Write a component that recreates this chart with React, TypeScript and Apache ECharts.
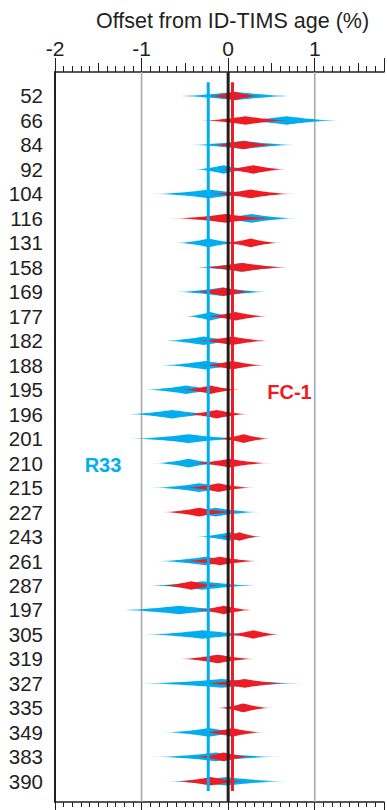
import React, { useEffect, useRef } from 'react';
import * as echarts from 'echarts';

// ---- data ----
const rowLabels = ['52', '66', '84', '92', '104', '116', '131', '158', '169', '177', '182', '188', '195', '196', '201', '210', '215', '227', '243', '261', '287', '197', '305', '319', '327', '335', '349', '383', '390'];
// R33 offsets (%): centre and half-width of the spindle
const r33Center = [0.06, 0.65, 0.15, -0.07, -0.24, 0.25, -0.24, 0.12, -0.09, -0.22, -0.30, -0.28, -0.50, -0.66, -0.47, -0.47, -0.35, -0.16, 0.00, -0.28, -0.31, -0.58, -0.31, -0.13, -0.09, 0.14, -0.24, -0.16, -0.04];
const r33Half = [0.72, 0.64, 0.65, 0.36, 0.68, 0.55, 0.40, 0.56, 0.57, 0.31, 0.49, 0.55, 0.51, 0.55, 0.72, 0.42, 0.57, 0.53, 0.41, 0.59, 0.67, 0.73, 0.72, 0.34, 1.00, 0.25, 0.55, 0.75, 0.73];
// FC-1 offsets (%)
const fc1Center = [0.05, 0.18, 0.16, 0.27, 0.24, -0.05, 0.24, 0.15, -0.07, 0.07, 0.03, 0.03, -0.22, -0.15, 0.16, 0.00, -0.13, -0.35, 0.11, -0.11, -0.44, -0.07, 0.27, -0.14, 0.17, 0.16, 0.03, -0.07, -0.22];
const fc1Half = [0.33, 0.55, 0.40, 0.40, 0.51, 0.65, 0.36, 0.55, 0.37, 0.39, 0.45, 0.40, 0.36, 0.39, 0.33, 0.49, 0.42, 0.45, 0.25, 0.47, 0.37, 0.36, 0.33, 0.46, 0.52, 0.33, 0.38, 0.36, 0.44];
const r33Mean = -0.23;
const fc1Mean = 0.05;
const gridValues = [-1, 1];
const xMin = -2;
const xMax = 1.8;

const FONT = '"Liberation Sans", Arial, Helvetica, sans-serif';
const INK = '#231f20';
const BLUE = '#00aeef';
const RED = '#ed1c24';

function spindleRender(rgb: string, solid: string) {
  return (params: any, api: any) => {
    const idx = api.value(0);
    const c = api.value(1);
    const hw = api.value(2);
    const a = api.coord([c - hw, idx]);
    const b = api.coord([c + hw, idx]);
    const y = a[1];
    const H = 4.3;
    const N = 30;
    const top: number[][] = [];
    const bot: number[][] = [];
    for (let i = 0; i <= N; i++) {
      const t = -1 + (2 * i) / N;
      const x = (a[0] + b[0]) / 2 + (t * (b[0] - a[0])) / 2;
      const h = H * Math.pow(1 - Math.abs(t), 1.8);
      top.push([x, y - h]);
      bot.push([x, y + h]);
    }
    const pts = top.concat(bot.reverse());
    return {
      type: 'polygon',
      shape: { points: pts },
      style: {
        fill: new echarts.graphic.LinearGradient(0, 0, 1, 0, [
          { offset: 0, color: `rgba(${rgb},0.2)` },
          { offset: 0.22, color: solid },
          { offset: 0.78, color: solid },
          { offset: 1, color: `rgba(${rgb},0.2)` },
        ]),
        stroke: null,
      },
    };
  };
}

function vLineRender(color: string, width: number) {
  return (params: any, api: any) => {
    const v = api.value(0);
    const a = api.coord([v, api.value(1)]);
    const b = api.coord([v, api.value(2)]);
    return {
      type: 'line',
      shape: { x1: a[0], y1: a[1], x2: b[0], y2: b[1] },
      style: { stroke: color, lineWidth: width },
    };
  };
}

export default function App() {
  const ref = useRef<HTMLDivElement>(null);
  useEffect(() => {
    document.body.style.margin = '0';
    const chart = echarts.init(ref.current!, null, { renderer: 'svg' });
    const r33Data = rowLabels.map((_, i) => [i, r33Center[i], r33Half[i]]);
    const fc1Data = rowLabels.map((_, i) => [i, fc1Center[i], fc1Half[i]]);
    const hiddenAxis = { show: false };
    const baseTop = {
      gridIndex: 0,
      type: 'value',
      min: xMin,
      max: xMax,
      splitLine: { show: false },
    };
    chart.setOption({
      animation: false,
      backgroundColor: '#ffffff',
      textStyle: { fontFamily: FONT },
      grid: [
        { left: 55, top: 72, width: 334.4, height: 730 },
        { left: 55, top: 83.76, width: 334.4, height: 709.8 },
      ],
      xAxis: [
        {
          ...baseTop,
          position: 'top',
          interval: 1,
          axisLine: { show: true, onZero: false, lineStyle: { color: INK, width: 1.5 } },
          axisTick: { show: true, length: 14, lineStyle: { color: INK, width: 1 } },
          axisLabel: {
            show: true,
            fontSize: 21,
            margin: 13,
            color: INK,
            fontFamily: FONT,
            formatter: (v: number) => (Number.isInteger(v) ? String(v) : ''),
          },
        },
        {
          ...baseTop,
          position: 'top',
          interval: 0.5,
          axisLine: { show: false, onZero: false },
          axisTick: { show: true, length: 9, lineStyle: { color: INK, width: 1 } },
          axisLabel: { show: false },
        },
        {
          ...baseTop,
          position: 'top',
          interval: 0.1,
          axisLine: { show: false, onZero: false },
          axisTick: { show: true, length: 6, lineStyle: { color: INK, width: 1 } },
          axisLabel: { show: false },
        },
        {
          ...baseTop,
          position: 'bottom',
          interval: 1,
          axisLine: { show: true, onZero: false, lineStyle: { color: INK, width: 1.5 } },
          axisTick: { show: true, length: 8, lineStyle: { color: INK, width: 1 } },
          axisLabel: { show: false },
        },
        {
          ...baseTop,
          position: 'bottom',
          interval: 0.1,
          axisLine: { show: false, onZero: false },
          axisTick: { show: true, length: 5, lineStyle: { color: INK, width: 1 } },
          axisLabel: { show: false },
        },
        { gridIndex: 1, type: 'value', min: xMin, max: xMax, ...hiddenAxis },
      ],
      yAxis: [
        {
          gridIndex: 0,
          type: 'value',
          min: 0,
          max: 1,
          axisLine: { show: true, onZero: false, lineStyle: { color: INK, width: 2 } },
          axisTick: { show: false },
          axisLabel: { show: false },
          splitLine: { show: false },
        },
        {
          gridIndex: 1,
          type: 'category',
          data: rowLabels,
          inverse: true,
          axisLine: { show: false },
          axisTick: { show: false },
          splitLine: { show: false },
          axisLabel: { interval: 0, fontSize: 20.5, margin: 12, color: INK, fontFamily: FONT },
        },
      ],
      series: [
        {
          type: 'custom',
          name: 'grid lines',
          xAxisIndex: 0,
          yAxisIndex: 0,
          z: 1,
          renderItem: vLineRender('#a7a9ac', 1.6),
          encode: { x: 0, y: [1, 2] },
          data: gridValues.map((v) => [v, 0, 1]),
        },
        {
          type: 'custom',
          name: 'R33',
          xAxisIndex: 5,
          yAxisIndex: 1,
          z: 2,
          renderItem: spindleRender('0,174,239', BLUE),
          encode: { x: 1, y: 0 },
          data: r33Data,
        },
        {
          type: 'custom',
          name: 'FC-1',
          xAxisIndex: 5,
          yAxisIndex: 1,
          z: 3,
          renderItem: spindleRender('237,28,36', RED),
          encode: { x: 1, y: 0 },
          data: fc1Data,
        },
        {
          type: 'custom',
          name: 'zero',
          xAxisIndex: 0,
          yAxisIndex: 0,
          z: 4,
          renderItem: vLineRender(INK, 3),
          encode: { x: 0, y: [1, 2] },
          data: [[0, 0, 1]],
        },
        {
          type: 'custom',
          name: 'R33 mean',
          xAxisIndex: 0,
          yAxisIndex: 0,
          z: 4,
          renderItem: vLineRender(BLUE, 3),
          encode: { x: 0, y: [1, 2] },
          data: [[r33Mean, 0.015, 0.986]],
        },
        {
          type: 'custom',
          name: 'FC-1 mean',
          xAxisIndex: 0,
          yAxisIndex: 0,
          z: 5,
          renderItem: vLineRender(RED, 3),
          encode: { x: 0, y: [1, 2] },
          data: [[fc1Mean, 0.015, 0.986]],
        },
      ],
      graphic: [
        {
          type: 'text',
          x: 232.5,
          y: 21,
          style: {
            text: 'Offset from ID-TIMS age (%)',
            fontSize: 21.5,
            fontFamily: FONT,
            fill: INK,
            align: 'center',
            verticalAlign: 'middle',
          },
        },
        {
          type: 'text',
          x: 289.5,
          y: 392,
          z: 10,
          style: {
            text: 'FC-1',
            fontSize: 20,
            fontWeight: 'bold',
            fontFamily: FONT,
            fill: RED,
            align: 'center',
            verticalAlign: 'middle',
          },
        },
        {
          type: 'text',
          x: 103,
          y: 465,
          z: 10,
          style: {
            text: 'R33',
            fontSize: 20,
            fontWeight: 'bold',
            fontFamily: FONT,
            fill: BLUE,
            align: 'center',
            verticalAlign: 'middle',
          },
        },
      ],
    });
    return () => chart.dispose();
  }, []);
  return <div ref={ref} style={{ width: 387, height: 810 }} />;
}
